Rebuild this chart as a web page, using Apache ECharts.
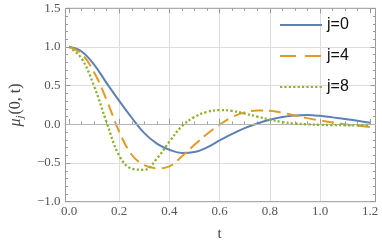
<!DOCTYPE html>
<html><head><meta charset="utf-8">
<script src="https://cdn.jsdelivr.net/npm/echarts@6/dist/echarts.min.js"></script>
<style>html,body{margin:0;padding:0;background:#fff}#c{width:382px;height:247px}</style>
</head><body><div id="c"></div>
<script>
const tValues = [0,0.05,0.1,0.15,0.2,0.25,0.3,0.35,0.4,0.45,0.5,0.55,0.6,0.65,0.7,0.75,0.8,0.85,0.9,0.95,1.0,1.05,1.1,1.15,1.2];
const j0 = [1.0,0.94,0.77,0.53,0.30,0.08,-0.12,-0.255,-0.335,-0.378,-0.365,-0.305,-0.215,-0.13,-0.055,0.005,0.055,0.09,0.11,0.115,0.105,0.085,0.065,0.04,0.015];
const j4 = [1.0,0.91,0.67,0.31,-0.10,-0.40,-0.535,-0.575,-0.55,-0.42,-0.27,-0.13,-0.01,0.09,0.15,0.175,0.17,0.145,0.11,0.075,0.045,0.02,-0.005,-0.025,-0.04];
const j8 = [1.0,0.85,0.49,0.02,-0.41,-0.58,-0.595,-0.45,-0.23,-0.03,0.09,0.155,0.18,0.17,0.135,0.095,0.055,0.025,0.005,-0.005,-0.012,-0.015,-0.017,-0.018,-0.018];
const seriesNames = ['j=0','j=4','j=8'];
const colors = ['#5E81B5','#E19C24','#8FB032'];

const pairs = arr => tValues.map((t,i)=>[t,arr[i]]);
const fmt = v => v.toFixed(1).replace('-', '\u2212');
const serif = 'Liberation Serif';
const frameColor = '#999';
const gridColor = '#ddd';
const tick = {show:true, inside:true, length:5, lineStyle:{color:frameColor}};

const chart = echarts.init(document.getElementById('c'), null, {renderer:'canvas'});
chart.setOption({
  animation:false,
  grid:[
    {left:69, right:11.8, top:8.3, bottom:45.3, show:false},
    {left:62, right:6.5, top:8.3, bottom:45.3, show:true, borderColor:frameColor, borderWidth:1, backgroundColor:'transparent'}
  ],
  legend:{
    orient:'vertical', left:274, top:12, itemWidth:42, itemHeight:14, itemGap:15,
    itemStyle:{opacity:0},
    textStyle:{fontFamily:'Liberation Sans', fontSize:16, color:'#111'},
    data:[
      {name:seriesNames[0]},
      {name:seriesNames[1], lineStyle:{type:[16,9]}},
      {name:seriesNames[2]}
    ]
  },
  xAxis:[
    {type:'value', gridIndex:0, position:'bottom', min:0, max:1.2, interval:0.2,
      axisLine:{show:false}, axisTick:tick,
      minorTick:{show:true, splitNumber:4, length:2.5, lineStyle:{color:frameColor}},
      splitLine:{show:true, showMinLine:false, showMaxLine:false, lineStyle:{color:gridColor, width:1}},
      axisLabel:{formatter:fmt, fontFamily:serif, fontSize:13, color:'#555', margin:4},
      name:'t', nameLocation:'middle', nameGap:26,
      nameTextStyle:{fontFamily:serif, fontSize:15, color:'#444'}},
    {type:'value', gridIndex:0, position:'top', min:0, max:1.2, interval:0.2,
      axisLine:{show:false}, axisLabel:{show:false}, splitLine:{show:false}, axisTick:tick,
      minorTick:{show:true, splitNumber:4, length:2.5, lineStyle:{color:frameColor}}},
    {type:'value', gridIndex:1, min:0, max:1, show:false}
  ],
  yAxis:[
    {type:'value', gridIndex:0, min:-1, max:1.5, show:false},
    {type:'value', gridIndex:1, position:'left', min:-1, max:1.5, interval:0.5,
      axisLine:{show:false}, axisTick:tick,
      minorTick:{show:true, splitNumber:5, length:2.5, lineStyle:{color:frameColor}},
      splitLine:{show:true, showMinLine:false, showMaxLine:false, lineStyle:{color:gridColor, width:1}},
      axisLabel:{formatter:fmt, fontFamily:serif, fontSize:13, color:'#555', margin:5},
      name:'{mu|\u03BC}{sub|j}{n|(0, t)}', nameLocation:'middle', nameGap:39, nameRotate:90,
      nameTextStyle:{fontFamily:serif, fontSize:16, color:'#444',
        rich:{
          mu:{fontFamily:serif, fontStyle:'italic', fontSize:16, color:'#444'},
          sub:{fontFamily:serif, fontStyle:'italic', fontSize:11, color:'#444', padding:[9,1,0,0]},
          n:{fontFamily:serif, fontSize:16, color:'#444'}
        }}},
    {type:'value', gridIndex:1, position:'right', min:-1, max:1.5, interval:0.5,
      axisLine:{show:false}, axisLabel:{show:false}, splitLine:{show:false}, axisTick:tick,
      minorTick:{show:true, splitNumber:5, length:2.5, lineStyle:{color:frameColor}}}
  ],
  series:[
    {type:'line', name:'zero', xAxisIndex:2, yAxisIndex:1, data:[], silent:true,
      markLine:{silent:true, symbol:'none', label:{show:false}, lineStyle:{color:'#b5b5b5', type:'solid', width:1},
        data:[{yAxis:0}]}},
    {type:'line', name:seriesNames[0], xAxisIndex:0, yAxisIndex:0, data:pairs(j0), smooth:0.4, symbol:'none', z:3,
      lineStyle:{color:colors[0], width:2}, itemStyle:{color:colors[0]}},
    {type:'line', name:seriesNames[1], xAxisIndex:0, yAxisIndex:0, data:pairs(j4), smooth:0.4, symbol:'none', z:4,
      lineStyle:{color:colors[1], width:2, type:[12,6], cap:'butt'}, itemStyle:{color:colors[1]}},
    {type:'line', name:seriesNames[2], xAxisIndex:0, yAxisIndex:0, data:pairs(j8), smooth:0.4, symbol:'none', z:5,
      lineStyle:{color:colors[2], width:2.3, type:[2.2,2.2], cap:'butt'}, itemStyle:{color:colors[2]}}
  ]
});
</script></body></html>
